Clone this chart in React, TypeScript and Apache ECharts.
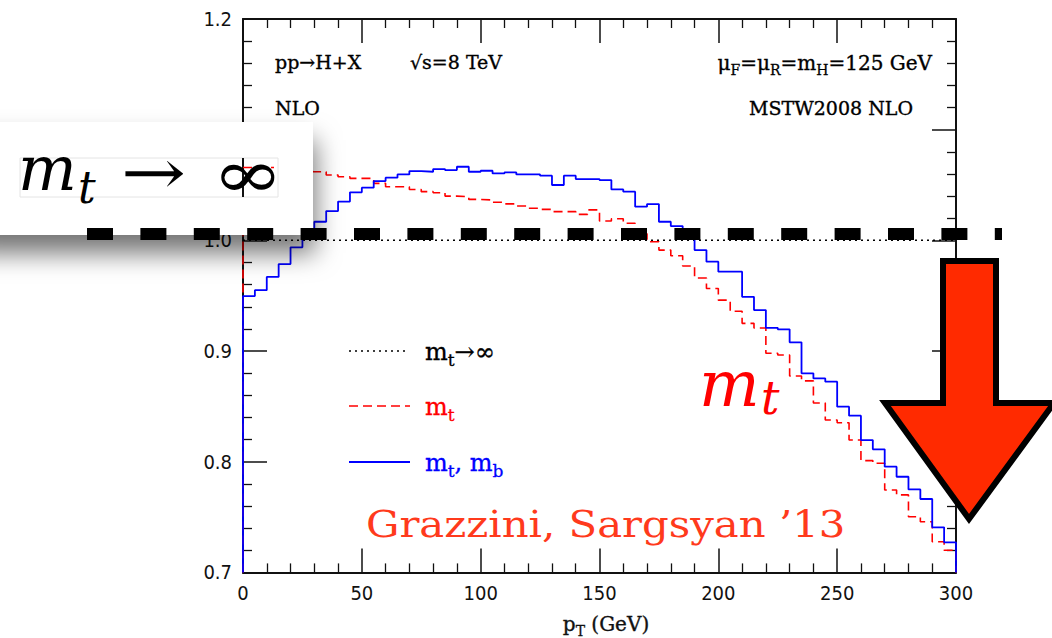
import React, { useEffect, useRef } from "react";
import * as echarts from "echarts";

// ---------------- data ----------------
const BIN_WIDTH = 5; // GeV
const PT_MIN = 0;
const PT_MAX = 300;
const RATIO_MIN = 0.7;
const RATIO_MAX = 1.2;
const xTickStep = 50;
const yTickStep = 0.1;

// ratio to m_t -> infinity, one value per 5 GeV bin (0..300 GeV)
const blueValues = [
  0.9497, 0.955, 0.967, 0.9786, 0.9937, 1.005, 1.0168, 1.0265, 1.035, 1.0434,
  1.0476, 1.0536, 1.0566, 1.0596, 1.0626, 1.062, 1.0644, 1.0635, 1.0665, 1.062,
  1.0629, 1.0605, 1.0614, 1.0596, 1.0596, 1.0584, 1.05, 1.0584, 1.0554, 1.0554,
  1.0545, 1.046, 1.044, 1.0304, 1.0328, 1.0168, 1.0129, 1.004, 0.9912, 0.9807,
  0.9717, 0.9717, 0.949, 0.937, 0.921, 0.9196, 0.9079, 0.8799, 0.8753, 0.8723,
  0.8497, 0.8416, 0.8196, 0.8112, 0.7955, 0.7864, 0.775, 0.7663, 0.7407, 0.7272,
];

const redValues = [
  1.0656, 1.065, 1.064, 1.063, 1.0625, 1.062, 1.062, 1.059, 1.0575, 1.056,
  1.056, 1.0515, 1.0485, 1.0484, 1.046, 1.044, 1.043, 1.04, 1.0394, 1.037,
  1.0365, 1.0345, 1.033, 1.031, 1.029, 1.028, 1.026, 1.026, 1.0235, 1.0275,
  1.0175, 1.0195, 1.0155, 1.006, 0.9987, 0.9912, 0.9861, 0.9768, 0.966, 0.9565,
  0.946, 0.936, 0.925, 0.9208, 0.898, 0.8964, 0.8774, 0.873, 0.853, 0.8377,
  0.8352, 0.8196, 0.801, 0.7986, 0.7744, 0.77, 0.7503, 0.7458, 0.7277, 0.72,
];

const referenceValue = 1.0; // m_t -> infinity
const hiddenYLabels = [1.1]; // covered by the slide's white box

// ---------------- helpers ----------------
function histData(vals: number[]): number[][] {
  const pts: number[][] = [[PT_MIN, RATIO_MIN]];
  vals.forEach((v, i) => pts.push([PT_MIN + i * BIN_WIDTH, v]));
  const end = PT_MIN + vals.length * BIN_WIDTH;
  pts.push([end, vals[vals.length - 1]]);
  pts.push([end, RATIO_MIN]);
  return pts;
}

const SERIF = "'DejaVu Serif', 'Liberation Serif', serif";
const TICKFONT = "'Liberation Sans Narrow', 'DejaVu Sans Condensed', 'Liberation Sans', sans-serif";

function rich(parts: Array<[string, boolean]>, size: number, color: string, family = SERIF) {
  const text = parts.map(([s, sub]) => `{${sub ? "s" : "n"}|${s}}`).join("");
  const lh = Math.round(size * 1.4);
  const ss = Math.round(size * 0.72);
  return {
    text,
    rich: {
      n: { fontSize: size, fontFamily: family, fill: color, lineHeight: lh, stroke: color, lineWidth: 0.35 },
      s: {
        fontSize: ss,
        fontFamily: family,
        fill: color,
        stroke: color,
        lineWidth: 0.3,
        lineHeight: Math.round(size * 0.75),
        padding: [Math.round(size * 0.64), 0, 0, 0],
      },
    },
  };
}

function richText(x: number, y: number, parts: Array<[string, boolean]>, size: number, color: string, align = "left", z = 20) {
  return {
    type: "text",
    x,
    y,
    z,
    style: {
      ...rich(parts, size, color),
      textAlign: align,
      textVerticalAlign: "middle",
    },
  };
}

function plainText(x: number, y: number, text: string, size: number, color: string, extra: any = {}, z = 20, el: any = {}) {
  return {
    type: "text",
    x,
    y,
    z,
    ...el,
    style: {
      text,
      fontSize: size,
      fontFamily: SERIF,
      fill: color,
      textAlign: "left",
      textVerticalAlign: "middle",
      ...extra,
    },
  };
}

const axisColor = "#111";

function makeXAxis(position: "bottom" | "top") {
  return {
    type: "value",
    min: PT_MIN,
    max: PT_MAX,
    interval: xTickStep,
    position,
    axisLine: { show: true, onZero: false, lineStyle: { color: axisColor, width: 2 } },
    axisTick: { show: true, inside: true, length: 24, lineStyle: { color: axisColor, width: 1.5 } },
    minorTick: { show: true, splitNumber: 5, length: 9, lineStyle: { color: axisColor, width: 1.3 } },
    axisLabel: {
      show: position === "bottom",
      margin: 11,
      fontFamily: TICKFONT,
      fontSize: 20,
      color: "#111",
    },
    splitLine: { show: false },
    minorSplitLine: { show: false },
  };
}

function makeYAxis(position: "left" | "right") {
  return {
    type: "value",
    min: RATIO_MIN,
    max: RATIO_MAX,
    interval: yTickStep,
    position,
    axisLine: { show: true, onZero: false, lineStyle: { color: axisColor, width: 2 } },
    axisTick: { show: true, inside: true, length: 24, lineStyle: { color: axisColor, width: 1.5 } },
    minorTick: { show: true, splitNumber: 5, length: 9, lineStyle: { color: axisColor, width: 1.3 } },
    axisLabel: {
      show: position === "left",
      margin: 11,
      fontFamily: TICKFONT,
      fontSize: 20,
      color: "#111",
      formatter: (v: number) =>
        hiddenYLabels.some((h) => Math.abs(h - v) < 1e-6) ? "" : v.toFixed(1),
    },
    splitLine: { show: false },
    minorSplitLine: { show: false },
  };
}

export default function App() {
  const ref = useRef<HTMLDivElement>(null);

  useEffect(() => {
    if (!ref.current) return;
    const chart = echarts.init(ref.current, undefined, { renderer: "svg" });

    const red = "#ff0000";
    const blue = "#0000ff";
    const slideRed = "#ff3a1c";

    const graphic: any[] = [
      // legend
      { type: "line", z: 20, shape: { x1: 349, y1: 351, x2: 406, y2: 351 }, style: { stroke: "#000", lineWidth: 1.5, lineDash: [2, 4] } },
      { type: "line", z: 20, shape: { x1: 349, y1: 406, x2: 410, y2: 406 }, style: { stroke: red, lineWidth: 1.6, lineDash: [9, 5] } },
      { type: "line", z: 20, shape: { x1: 349, y1: 462, x2: 410, y2: 462 }, style: { stroke: blue, lineWidth: 1.8 } },
      richText(425, 352, [["m", false], ["t", true], ["→∞", false]], 24, "#000"),
      richText(425, 407, [["m", false], ["t", true]], 24, red),
      richText(425, 463, [["m", false], ["t", true], [", m", false], ["b", true]], 24, blue),

      // annotations inside the frame
      richText(275, 62, [["pp→H+X", false]], 19, "#000"),
      richText(410, 62, [["√s=8 TeV", false]], 19, "#000"),
      richText(932, 63, [["μ", false], ["F", true], ["=μ", false], ["R", true], ["=m", false], ["H", true], ["=125 GeV", false]], 20, "#000", "right"),
      richText(275, 108, [["NLO", false]], 19, "#000"),
      richText(913, 108, [["MSTW2008 NLO", false]], 19, "#000", "right"),

      // x axis title
      richText(606, 624, [["p", false], ["T", true], [" (GeV)", false]], 20, "#111", "center"),

      // slide overlay: white box with shadow
      {
        type: "rect",
        z: 100,
        shape: { x: -30, y: 122, width: 343, height: 113 },
        style: { fill: "#ffffff", shadowBlur: 26, shadowOffsetX: 2, shadowOffsetY: 18, shadowColor: "rgba(0,0,0,0.55)" },
      },
      {
        type: "rect",
        z: 101,
        shape: { x: 20, y: 158, width: 258, height: 39 },
        style: { fill: "none", stroke: "#e4e4e4", lineWidth: 1 },
      },
      { type: "line", z: 101, shape: { x1: 243, y1: 158, x2: 243, y2: 197 }, style: { stroke: "#111", lineWidth: 2 } },
      { type: "line", z: 101, shape: { x1: 243, y1: 167.5, x2: 274, y2: 167.5 }, style: { stroke: red, lineWidth: 1.6, lineDash: [9, 5] } },
      plainText(18, 168, "m", 62, "#000", { fontStyle: "italic" }, 102),
      plainText(78, 187, "t", 44, "#000", { fontStyle: "italic" }, 102),
      plainText(121, 173, "→", 62, "#000", {}, 102, { scaleX: 1.25 }),
      plainText(212, 174, "∞", 66, "#000", {}, 102, { scaleX: 1.3 }),

      // thick black dashed line
      {
        type: "line",
        z: 110,
        shape: { x1: 87, y1: 234, x2: 1002, y2: 234 },
        style: { stroke: "#000", lineWidth: 12, lineDash: [26, 27.4] },
      },

      // big red arrow
      {
        type: "polygon",
        z: 120,
        shape: {
          points: [
            [943, 261],
            [996, 261],
            [996, 403],
            [1054, 403],
            [969, 519],
            [885, 403],
            [943, 403],
          ],
        },
        style: { fill: "#ff2a00", stroke: "#000", lineWidth: 6, lineJoin: "miter" },
      },

      // red m_t
      plainText(699, 384, "m", 64, red, { fontStyle: "italic" }, 30),
      plainText(761, 398, "t", 46, red, { fontStyle: "italic" }, 30),

      // citation
      plainText(366, 524, "Grazzini, Sargsyan ’13", 38, slideRed, {}, 30, { scaleX: 1.1 }),
    ];

    const option: any = {
      animation: false,
      backgroundColor: "#ffffff",
      grid: { left: 243, right: 96, top: 19, bottom: 65.6, containLabel: false },
      xAxis: [makeXAxis("bottom"), makeXAxis("top")],
      yAxis: [makeYAxis("left"), makeYAxis("right")],
      series: [
        {
          type: "line",
          name: "mt→∞",
          xAxisIndex: 0,
          yAxisIndex: 0,
          data: [
            [PT_MIN, referenceValue],
            [PT_MAX, referenceValue],
          ],
          symbol: "none",
          z: 2,
          lineStyle: { color: "#000", width: 1.5, type: [2, 4] },
        },
        {
          type: "line",
          name: "mt",
          xAxisIndex: 0,
          yAxisIndex: 0,
          data: histData(redValues),
          step: "end",
          symbol: "none",
          z: 3,
          lineStyle: { color: red, width: 1.6, type: [9, 5] },
        },
        {
          type: "line",
          name: "mt, mb",
          xAxisIndex: 0,
          yAxisIndex: 0,
          data: histData(blueValues),
          step: "end",
          symbol: "none",
          z: 4,
          lineStyle: { color: blue, width: 1.8 },
        },
      ],
      graphic,
    };

    chart.setOption(option);
    return () => chart.dispose();
  }, []);

  return (
    <div
      ref={ref}
      style={{ position: "fixed", left: 0, top: 0, width: 1052, height: 638, background: "#fff" }}
    />
  );
}
